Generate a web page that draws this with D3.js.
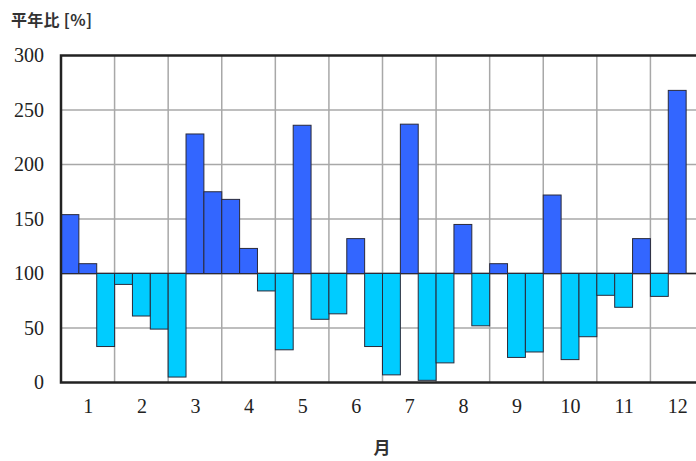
<!DOCTYPE html>
<html>
<head>
  <meta charset="utf-8">
  <title>平年比</title>
  <script src="https://d3js.org/d3.v7.min.js"></script>
  <style>
    body { margin: 0; background: #fff; overflow: hidden; }
    svg { display: block; }
    .tick text { font-family: "Liberation Serif", "DejaVu Serif", serif; font-size: 20px; fill: #222; }
  </style>
</head>
<body>
  <svg id="chart" width="696" height="461"></svg>

  <script>
    // 月ごとに上旬・中旬・下旬の3本 (平年比 %)。12月下旬はデータなし
    const months = ["1", "2", "3", "4", "5", "6", "7", "8", "9", "10", "11", "12"];
    const dekadValues = [
      154, 109, 33,
      90, 61, 49,
      5, 228, 175,
      168, 123, 84,
      30, 236, 58,
      63, 132, 33,
      7, 237, 2,
      18, 145, 52,
      109, 23, 28,
      172, 21, 42,
      80, 69, 132,
      79, 268, null
    ];
    const yTicks = [0, 50, 100, 150, 200, 250, 300];
    const baseValue = 100;

    const svg = d3.select("#chart");
    const plotLeft = 61, plotRight = 704, plotTop = 55.5, plotBottom = 382.5;

    const x = d3.scaleBand()
      .domain(d3.range(dekadValues.length))
      .range([plotLeft, plotRight])
      .padding(0);

    const xMonth = d3.scaleLinear().domain([0, months.length]).range([plotLeft, plotRight]);

    const y = d3.scaleLinear().domain([0, 300]).range([plotBottom, plotTop]);

    // grid
    const grid = svg.append("g").attr("stroke", "#a8a8a8").attr("stroke-width", 1.5);
    grid.selectAll("line.h")
      .data(yTicks.filter(d => d > 0 && d < 300))
      .join("line")
      .attr("x1", plotLeft).attr("x2", plotRight)
      .attr("y1", d => y(d)).attr("y2", d => y(d));
    grid.selectAll("line.v")
      .data(d3.range(1, months.length))
      .join("line")
      .attr("x1", d => xMonth(d)).attr("x2", d => xMonth(d))
      .attr("y1", plotTop).attr("y2", plotBottom);

    // base line at 100
    svg.append("line")
      .attr("x1", plotLeft).attr("x2", plotRight)
      .attr("y1", y(baseValue)).attr("y2", y(baseValue))
      .attr("stroke", "#222").attr("stroke-width", 1.5);

    // bars
    svg.append("g")
      .selectAll("rect")
      .data(dekadValues.map((v, i) => ({ i, v })).filter(d => d.v !== null))
      .join("rect")
      .attr("x", d => x(d.i))
      .attr("width", x.bandwidth())
      .attr("y", d => y(Math.max(d.v, baseValue)))
      .attr("height", d => Math.abs(y(d.v) - y(baseValue)))
      .attr("fill", d => d.v >= baseValue ? "#3366ff" : "#00ccff")
      .attr("stroke", "#2a2a3a")
      .attr("stroke-width", 1);

    // frame
    svg.append("rect")
      .attr("x", plotLeft).attr("y", plotTop)
      .attr("width", plotRight - plotLeft).attr("height", plotBottom - plotTop)
      .attr("fill", "none").attr("stroke", "#222").attr("stroke-width", 2.5);

    // y axis labels
    const yAxis = svg.append("g")
      .attr("transform", `translate(${plotLeft},0)`)
      .call(d3.axisLeft(y).tickValues(yTicks).tickSize(0).tickPadding(17).tickFormat(d3.format("d")));
    yAxis.select(".domain").remove();

    // x axis labels (month centres)
    const xAxis = svg.append("g")
      .attr("transform", `translate(0,${plotBottom})`)
      .call(d3.axisBottom(xMonth)
        .tickValues(d3.range(months.length).map(i => i + 0.5))
        .tickSize(0).tickPadding(16)
        .tickFormat((d, i) => months[i]));
    xAxis.select(".domain").remove();

    svg.append("text")
      .attr("x", 11).attr("y", 26)
      .attr("font-family", "'Noto Sans CJK JP', sans-serif")
      .attr("font-size", 16).attr("font-weight", "bold").attr("fill", "#333")
      .attr("textLength", 81).attr("lengthAdjust", "spacing")
      .text("平年比 [%]");

    svg.append("text")
      .attr("x", 382).attr("y", 454)
      .attr("text-anchor", "middle")
      .attr("font-family", "'Noto Sans CJK JP', sans-serif")
      .attr("font-size", 17).attr("font-weight", "bold").attr("fill", "#333")
      .text("月");
  </script>
</body>
</html>
